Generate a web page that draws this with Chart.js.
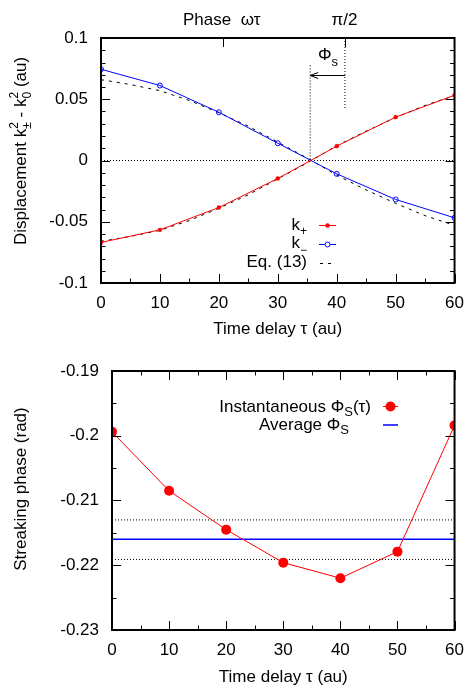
<!DOCTYPE html>
<html><head><meta charset="utf-8">
<script src="https://cdn.jsdelivr.net/npm/chart.js@4.4.0/dist/chart.umd.min.js"></script>
<style>
html,body{margin:0;padding:0;background:#fff;}
#wrap{position:relative;width:474px;height:688px;background:#fff;}
#c1{position:absolute;left:0;top:0;}
#c2{position:absolute;left:0;top:344px;}
</style></head><body>
<div id="wrap"><canvas id="c1" width="474" height="344"></canvas><canvas id="c2" width="474" height="344"></canvas></div>
<script>
const FONT = "'Liberation Sans', Arial, Helvetica, sans-serif";

// ---------- Top panel data ----------
const tau = [0, 10, 20, 30, 40, 50, 60];
const kPlus = [-0.0669, -0.0566, -0.0384, -0.0147, 0.0117, 0.0354, 0.0533];
const kMinus = [0.0745, 0.0612, 0.0394, 0.0141, -0.0109, -0.0318, -0.0468];
const eqTau = [0, 5, 10, 15, 20, 25, 30, 35, 40, 45, 50, 55, 60];
const eqPlus = [-0.066, -0.062, -0.057, -0.049, -0.039, -0.028, -0.015, -0.002, 0.012, 0.024, 0.035, 0.045, 0.053];
const eqMinus = [0.066, 0.062, 0.057, 0.049, 0.039, 0.028, 0.015, 0.002, -0.012, -0.024, -0.035, -0.045, -0.053];
const topXTicks = [0, 10, 20, 30, 40, 50, 60];
const topXMinor = [5, 15, 25, 35, 45, 55];
const topYTicks = [-0.1, -0.05, 0, 0.05, 0.1];
const topYMinor = [-0.09, -0.08, -0.07, -0.06, -0.04, -0.03, -0.02, -0.01, 0.01, 0.02, 0.03, 0.04, 0.06, 0.07, 0.08, 0.09];
const phaseTickTau = [20.7, 41.4];
const phaseTickLabels = ['', 'π/2'];
const phiSTau = 35.5;          // zero crossing
const phiSLineTop = 0.0776;
const piHalfLineBottom = 0.0424;
const arrowY = 0.0694;

// ---------- Bottom panel data ----------
const phiInst = [-0.1994, -0.2085, -0.2145, -0.2196, -0.2220, -0.2179, -0.1984];
const phiAvg = -0.2160;
const phiBand = [-0.2130, -0.2191];
const botXTicks = [0, 10, 20, 30, 40, 50, 60];
const botXMinor = [5, 15, 25, 35, 45, 55];
const botYTicks = [-0.23, -0.22, -0.21, -0.2, -0.19];
const botYMinor = [-0.225, -0.215, -0.205, -0.195];

const pts = (xs, ys) => xs.map((v, i) => ({x: v, y: ys[i]}));

function rich(ctx, parts, x, y, align) {
  let total = 0, pending = 0;
  for (const p of parts) {
    ctx.font = p.s + 'px ' + FONT;
    const w = ctx.measureText(p.t).width;
    if (p.stack) { pending = Math.max(pending, w); }
    else { total += Math.max(pending, w); pending = 0; }
  }
  let cx = align === 'right' ? x - total : align === 'center' ? x - total / 2 : x;
  pending = 0;
  ctx.textAlign = 'left'; ctx.textBaseline = 'alphabetic';
  for (const p of parts) {
    ctx.font = p.s + 'px ' + FONT;
    const w = ctx.measureText(p.t).width;
    ctx.fillText(p.t, cx, y + (p.dy || 0));
    if (p.stack) { pending = Math.max(pending, w); }
    else { cx += Math.max(pending, w); pending = 0; }
  }
}

function line(ctx, x1, y1, x2, y2) { ctx.beginPath(); ctx.moveTo(x1, y1); ctx.lineTo(x2, y2); ctx.stroke(); }

function frame(chart, o) {
  const {ctx, chartArea: a, scales: {x, y}} = chart;
  ctx.save();
  ctx.strokeStyle = '#000'; ctx.lineWidth = 1; ctx.setLineDash([]);
  const M = 9, m = 4.5;
  for (const v of o.xMajor) { const p = Math.round(x.getPixelForValue(v)) + 0.5; line(ctx, p, a.bottom, p, a.bottom - M); if (o.topTicks) line(ctx, p, a.top, p, a.top + M); }
  for (const v of o.xMinor) { const p = Math.round(x.getPixelForValue(v)) + 0.5; line(ctx, p, a.bottom, p, a.bottom - m); if (o.topTicks) line(ctx, p, a.top, p, a.top + m); }
  for (const v of o.yMajor) { const p = Math.round(y.getPixelForValue(v)) + 0.5; line(ctx, a.left, p, a.left + M, p); line(ctx, a.right, p, a.right - M, p); }
  for (const v of o.yMinor) { const p = Math.round(y.getPixelForValue(v)) + 0.5; line(ctx, a.left, p, a.left + m, p); line(ctx, a.right, p, a.right - m, p); }
  ctx.lineWidth = 2;
  ctx.strokeRect(a.left, a.top, a.right - a.left, a.bottom - a.top);
  ctx.restore();
}

const tickFont = {family: FONT, size: 17};
const fmt = v => String(+(+v).toFixed(4));

// ---------------- Chart 1 ----------------
const topPlugin = {
  id: 'topExtras',
  afterDatasetsDraw(chart) {
    const {ctx, chartArea: a, scales: {x, y}} = chart;
    frame(chart, {xMajor: topXTicks, xMinor: topXMinor, yMajor: topYTicks, yMinor: topYMinor, topTicks: false});
    ctx.save();
    ctx.strokeStyle = '#000'; ctx.fillStyle = '#000'; ctx.lineWidth = 1;
    // phase ticks on top
    phaseTickTau.forEach((t, i) => {
      const p = Math.round(x.getPixelForValue(t)) + 0.5;
      line(ctx, p, a.top, p, a.top + 9);
      if (phaseTickLabels[i]) {
        ctx.font = '17px ' + FONT; ctx.textAlign = 'center'; ctx.textBaseline = 'alphabetic';
        ctx.fillText(phaseTickLabels[i], p - 1, 25);
      }
    });
    ctx.font = '17px ' + FONT; ctx.textAlign = 'left';
    ctx.fillText('Phase  ωτ', 183, 25);
    // Phi_s arrow
    const ay = Math.round(y.getPixelForValue(arrowY)) + 0.5;
    const x1 = x.getPixelForValue(phaseTickTau[1]), x0 = x.getPixelForValue(phiSTau);
    line(ctx, x1, ay, x0, ay);
    line(ctx, x0, ay, x0 + 8, ay - 3); line(ctx, x0, ay, x0 + 8, ay + 3);
    rich(ctx, [{t: 'Φ', s: 17}, {t: 's', s: 13, dy: 6}], 318, 60, 'left');
    // y title
    ctx.save(); ctx.translate(26, 245); ctx.rotate(-Math.PI / 2);
    rich(ctx, [{t: 'Displacement k', s: 17}, {t: '±', s: 12, dy: 5, stack: true}, {t: '2', s: 12, dy: -8},
               {t: ' - k', s: 17}, {t: '0', s: 12, dy: 5, stack: true}, {t: '2', s: 12, dy: -8}, {t: ' (au)', s: 17}], 0, 0, 'left');
    ctx.restore();
    // legend
    const lx = 307;
    rich(ctx, [{t: 'k', s: 17}, {t: '+', s: 12, dy: 5}], lx, 230, 'right');
    rich(ctx, [{t: 'k', s: 17}, {t: '−', s: 12, dy: 6}], lx, 248, 'right');
    rich(ctx, [{t: 'Eq. (13)', s: 17}], lx, 267, 'right');
    ctx.lineWidth = 1;
    ctx.strokeStyle = '#ff0000'; line(ctx, 319, 225.5, 336, 225.5);
    ctx.fillStyle = '#ff0000'; ctx.beginPath(); ctx.arc(327.5, 225.5, 2.2, 0, 2 * Math.PI); ctx.fill();
    ctx.strokeStyle = '#0000ff'; line(ctx, 319, 244.5, 336, 244.5);
    ctx.fillStyle = '#fff'; ctx.beginPath(); ctx.arc(327.5, 244.5, 2.5, 0, 2 * Math.PI); ctx.fill(); ctx.stroke();
    ctx.strokeStyle = '#000'; ctx.setLineDash([3, 5]); line(ctx, 320, 263.5, 336, 263.5);
    ctx.restore();
  }
};

new Chart(document.getElementById('c1'), {
  type: 'line',
  data: {
    datasets: [
      {label: 'k+', data: pts(tau, kPlus), borderColor: '#ff0000', backgroundColor: '#ff0000', borderWidth: 1,
       pointRadius: 2.2, pointBorderWidth: 0, pointBackgroundColor: '#ff0000', tension: 0, order: 1},
      {label: 'k-', data: pts(tau, kMinus), borderColor: '#0000ff', backgroundColor: '#0000ff', borderWidth: 1,
       pointRadius: 2.5, pointBorderWidth: 1, pointBorderColor: '#0000ff', pointBackgroundColor: 'rgba(0,0,0,0)', tension: 0, order: 2},
      {label: 'Eq. (13)', data: pts(eqTau, eqPlus), borderColor: '#000', borderWidth: 1, borderDash: [3, 5], pointRadius: 0, tension: 0, order: 3},
      {label: 'Eq. (13) b', data: pts(eqTau, eqMinus), borderColor: '#000', borderWidth: 1, borderDash: [3, 5], pointRadius: 0, tension: 0, order: 3},
      {label: 'zero', data: pts([0, 60], [0, 0]), borderColor: '#000', borderWidth: 1, borderDash: [1, 2], pointRadius: 0, order: 5},
      {label: 'phiS', data: pts([phiSTau, phiSTau], [phiSLineTop, 0]), borderColor: '#000', borderWidth: 1, borderDash: [1, 2], pointRadius: 0, order: 5},
      {label: 'pi2', data: pts([phaseTickTau[1], phaseTickTau[1]], [0.1, piHalfLineBottom]), borderColor: '#000', borderWidth: 1, borderDash: [1, 2], pointRadius: 0, order: 5}
    ]
  },
  options: {
    responsive: false, animation: false, devicePixelRatio: 1,
    layout: {padding: {top: 38, right: 11, left: 0, bottom: 0}},
    plugins: {legend: {display: false}, tooltip: {enabled: false}},
    scales: {
      x: {type: 'linear', min: 0, max: 60,
          afterBuildTicks: s => { s.ticks = topXTicks.map(v => ({value: v})); },
          afterFit: s => { s.height = 61; },
          grid: {display: false, drawTicks: false}, border: {display: false},
          ticks: {font: tickFont, color: '#000', padding: 10, maxRotation: 0, callback: fmt},
          title: {display: true, text: 'Time delay τ (au)', font: {family: FONT, size: 17}, color: '#000', padding: {top: 0, bottom: 4}}},
      y: {type: 'linear', min: -0.1, max: 0.1,
          afterBuildTicks: s => { s.ticks = topYTicks.map(v => ({value: v})); },
          afterFit: s => { s.width = 101; },
          grid: {display: false, drawTicks: false}, border: {display: false},
          ticks: {font: tickFont, color: '#000', padding: 13, callback: fmt}}
    }
  },
  plugins: [topPlugin]
});

// ---------------- Chart 2 ----------------
const botPlugin = {
  id: 'botExtras',
  afterDatasetsDraw(chart) {
    const {ctx} = chart;
    frame(chart, {xMajor: botXTicks, xMinor: botXMinor, yMajor: botYTicks, yMinor: botYMinor, topTicks: true});
    ctx.save();
    ctx.fillStyle = '#000';
    // y title
    ctx.save(); ctx.translate(26, 489 - 344); ctx.rotate(-Math.PI / 2);
    rich(ctx, [{t: 'Streaking phase (rad)', s: 17}], 0, 0, 'center');
    ctx.restore();
    // legend
    rich(ctx, [{t: 'Instantaneous Φ', s: 17}, {t: 'S', s: 13, dy: 4}, {t: '(τ)', s: 17}], 371, 411.7 - 344, 'right');
    rich(ctx, [{t: 'Average Φ', s: 17}, {t: 'S', s: 13, dy: 4}], 349, 430 - 344, 'right');
    ctx.strokeStyle = '#ff0000'; ctx.lineWidth = 1;
    line(ctx, 383, 406.5 - 344, 398, 406.5 - 344);
    ctx.fillStyle = '#ff0000'; ctx.beginPath(); ctx.arc(390.5, 406.5 - 344, 5, 0, 2 * Math.PI); ctx.fill();
    ctx.strokeStyle = '#0000ff'; ctx.lineWidth = 1.5;
    line(ctx, 383, 425 - 344, 398, 425 - 344);
    ctx.restore();
  }
};

new Chart(document.getElementById('c2'), {
  type: 'line',
  data: {
    datasets: [
      {label: 'Instantaneous', data: pts(tau, phiInst), borderColor: '#ff0000', borderWidth: 1,
       pointRadius: 5, pointBorderWidth: 0, pointBackgroundColor: '#ff0000', tension: 0, order: 1},
      {label: 'Average', data: pts([0, 60], [phiAvg, phiAvg]), borderColor: '#0000ff', borderWidth: 1.5, pointRadius: 0, order: 2},
      {label: 'band hi', data: pts([0, 60], [phiBand[0], phiBand[0]]), borderColor: '#000', borderWidth: 1, borderDash: [1, 2], pointRadius: 0, order: 3},
      {label: 'band lo', data: pts([0, 60], [phiBand[1], phiBand[1]]), borderColor: '#000', borderWidth: 1, borderDash: [1, 2], pointRadius: 0, order: 3}
    ]
  },
  options: {
    responsive: false, animation: false, devicePixelRatio: 1,
    layout: {padding: {top: 27, right: 11, left: 0, bottom: 0}},
    plugins: {legend: {display: false}, tooltip: {enabled: false}},
    scales: {
      x: {type: 'linear', min: 0, max: 60,
          afterBuildTicks: s => { s.ticks = botXTicks.map(v => ({value: v})); },
          afterFit: s => { s.height = 58; },
          grid: {display: false, drawTicks: false}, border: {display: false},
          ticks: {font: tickFont, color: '#000', padding: 10, maxRotation: 0, callback: fmt},
          title: {display: true, text: 'Time delay τ (au)', font: {family: FONT, size: 17}, color: '#000', padding: {top: 0, bottom: 0}}},
      y: {type: 'linear', min: -0.23, max: -0.19,
          afterBuildTicks: s => { s.ticks = botYTicks.map(v => ({value: v})); },
          afterFit: s => { s.width = 112; },
          grid: {display: false, drawTicks: false}, border: {display: false},
          ticks: {font: tickFont, color: '#000', padding: 13, callback: fmt}}
    }
  },
  plugins: [botPlugin]
});
</script>
</body></html>
